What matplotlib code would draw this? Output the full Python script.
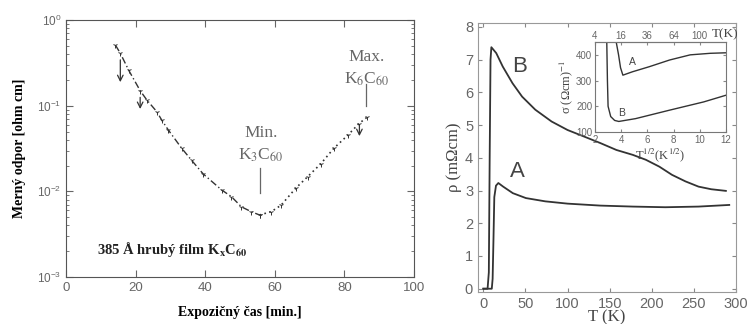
import numpy as np
import matplotlib
matplotlib.use("Agg")
import matplotlib.pyplot as plt
from matplotlib.ticker import LogLocator, NullFormatter, FixedLocator

# --- lava cast: merny odpor vs. expozicny cas ---
exp_time = [14.2, 15.6, 18.0, 21.3, 23.2, 26.1, 27.5, 29.4, 33.2, 36.1, 39.4,
            44.7, 47.5, 50.4, 53.2, 55.6]
odpor_down = [0.51, 0.41, 0.26, 0.15, 0.117, 0.085, 0.068, 0.052, 0.032,
              0.023, 0.016, 0.0104, 0.0087, 0.0066, 0.0058, 0.0053]
exp_time_up = [55.6, 59.0, 61.8, 66.1, 69.4, 73.2, 77.0, 80.9, 84.2, 86.6]
odpor_up = [0.0053, 0.0058, 0.0069, 0.011, 0.0148, 0.021, 0.032, 0.045,
            0.062, 0.074]
# sipky (x, od, do)
arrow_x = [15.6, 21.3, 84.3]
arrow_top = [0.37, 0.135, 0.065]
arrow_bot = [0.175, 0.085, 0.041]

# --- prava cast: rho(T) ---
T_B = [0, 5, 6.5, 7.5, 8.5, 9.5, 15.3, 23, 34.6, 46, 61.7, 81, 100, 119.6,
       139, 158, 177.5, 193, 209, 224, 240, 255.5, 270.6, 288]
rho_B = [0, 0, 0.5, 4.0, 7.0, 7.38, 7.2, 6.79, 6.28, 5.87, 5.47, 5.11, 4.85,
         4.65, 4.45, 4.24, 4.09, 3.94, 3.73, 3.48, 3.28, 3.12, 3.04, 2.99]
T_A = [0, 10, 11, 12, 13, 15, 17.8, 23.5, 35, 50.5, 73.5, 100, 139, 177.5,
       216, 255.5, 292]
rho_A = [0, 0, 0.3, 1.5, 2.8, 3.15, 3.23, 3.12, 2.92, 2.77, 2.67, 2.6, 2.54,
         2.51, 2.49, 2.51, 2.56]

# --- inset: sigma vs T^1/2 ---
sq_A = [3.62, 3.8, 3.95, 4.13, 4.85, 6.15, 7.7, 9.27, 10.8, 12.0]
sig_A = [450, 400, 350, 321, 334, 354, 380, 400, 406, 408]
sq_B = [2.9, 2.95, 3.0, 3.2, 3.5, 3.82, 5.1, 7.7, 10.3, 12.0]
sig_B = [450, 300, 200, 160, 145, 141, 152, 185, 217, 243]
top_ticks = [2, 4, 6, 8, 10]
top_labels = ['4', '16', '36', '64', '100']

gray = '#666666'
dark = '#333333'
serif = ['Liberation Serif', 'DejaVu Serif']
sans = ['Liberation Sans', 'DejaVu Sans']

fig = plt.figure(figsize=(7.52, 3.24), dpi=100)

# ================= leva =================
ax1 = fig.add_axes([0.0878, 0.145, 0.4628, 0.793])
ax1.plot(exp_time, odpor_down, color=dark, lw=1.0, ls=(0, (5, 2, 1, 2)),
         marker='1', ms=4, mew=0.7)
ax1.plot(exp_time_up, odpor_up, color=dark, lw=1.2, ls=(0, (1, 2)),
         marker='1', ms=4, mew=0.7)
for x, y0, y1 in zip(arrow_x, arrow_top, arrow_bot):
    ax1.annotate('', xy=(x, y1), xytext=(x, y0),
                 arrowprops=dict(arrowstyle='->', lw=0.9, color=dark,
                                 mutation_scale=10))
ax1.set_yscale('log')
ax1.set_xlim(0, 100)
ax1.set_ylim(1e-3, 1)
ax1.set_xticks([0, 20, 40, 60, 80, 100])
ax1.yaxis.set_major_locator(LogLocator(base=10, numticks=10))
ax1.yaxis.set_minor_locator(LogLocator(base=10, subs=np.arange(2, 10), numticks=10))
ax1.yaxis.set_minor_formatter(NullFormatter())
ax1.tick_params(which='both', direction='in', top=True, right=True,
                colors=gray, labelsize=9.5)
ax1.tick_params(axis='y', labelsize=8.5)
ax1.tick_params(which='major', length=5)
ax1.tick_params(which='minor', length=2.5)
for lab in ax1.get_xticklabels() + ax1.get_yticklabels():
    lab.set_family(sans)
for s in ax1.spines.values():
    s.set_color('#555555')
ax1.set_xlabel('Expozičný čas [min.]', family=serif, weight='bold',
               fontsize=10, labelpad=9)
ax1.set_ylabel('Merný odpor [ohm cm]', family=serif, weight='bold',
               fontsize=10, labelpad=8)

ax1.text(56, 0.035, 'Min.\nK$_3$C$_{60}$', family=serif, color=gray,
         fontsize=12.5, ha='center', va='center', linespacing=1.4,
         math_fontfamily='stix')
ax1.plot([55.8, 55.8], [0.0186, 0.0095], color=gray, lw=0.9)
ax1.text(86.5, 0.27, 'Max.\nK$_6$C$_{60}$', family=serif, color=gray,
         fontsize=12.5, ha='center', va='center', linespacing=1.4,
         math_fontfamily='stix')
ax1.plot([86.3, 86.3], [0.18, 0.098], color=gray, lw=0.9)
ax1.text(9, 0.0021, '385 Å hrubý film K$_\\mathbf{x}$C$_\\mathbf{60}$',
         family=serif, weight='bold', fontsize=10.5, color='#222222',
         va='center', math_fontfamily='stix')

# ================= prava =================
ax2 = fig.add_axes([0.6356, 0.0988, 0.3431, 0.8302])
ax2.plot(T_B, rho_B, color=dark, lw=1.3)
ax2.plot(T_A, rho_A, color=dark, lw=1.3)
ax2.set_xlim(-6.4, 293)
ax2.set_ylim(-0.1, 8.12)
ax2.set_xticks([0, 50, 100, 150, 200, 250, 300])
ax2.set_yticks(range(0, 9))
ax2.tick_params(direction='in', top=True, right=True, length=3,
                colors='#888888', labelcolor=gray, labelsize=10.5)
for lab in ax2.get_xticklabels() + ax2.get_yticklabels():
    lab.set_family(sans)
for s in ax2.spines.values():
    s.set_color('#999999')
ax2.set_xlabel('T (K)', family=serif, fontsize=12, color='#444444', labelpad=-1)
ax2.set_ylabel('ρ (mΩcm)', family=serif, fontsize=12, color='#444444',
               labelpad=2)
ax2.text(42.5, 6.79, 'B', family=sans, fontsize=16, color='#444444',
         ha='center', va='center')
ax2.text(41, 3.58, 'A', family=sans, fontsize=16, color='#444444',
         ha='center', va='center')

# inset
ax3 = fig.add_axes([0.7912, 0.5926, 0.1742, 0.2778])
ax3.plot(sq_A, sig_A, color=dark, lw=1.0)
ax3.plot(sq_B, sig_B, color=dark, lw=1.0)
ax3.set_xlim(2, 12)
ax3.set_ylim(100, 450)
ax3.set_xticks([2, 4, 6, 8, 10, 12])
ax3.set_yticks([100, 200, 300, 400])
ax3.tick_params(direction='in', right=True, length=2, colors='#888888',
                labelcolor=gray, labelsize=7, pad=2)
for lab in ax3.get_xticklabels() + ax3.get_yticklabels():
    lab.set_family(sans)
sec = ax3.secondary_xaxis('top')
sec.xaxis.set_major_locator(FixedLocator(top_ticks))
sec.set_xticklabels(top_labels)
sec.tick_params(direction='in', length=2, colors='#888888', labelcolor=gray,
                labelsize=7, pad=1)
for lab in sec.get_xticklabels():
    lab.set_family(sans)
for s in list(ax3.spines.values()) + [sec.spines['top']]:
    s.set_color('#777777')
ax3.text(0.99, 1.085, 'T(K)', transform=ax3.transAxes, family=serif,
         fontsize=9.5, color='#444444', ha='center', va='center')
ax3.set_xlabel('T$^{1/2}$(K$^{1/2}$)', family=serif, fontsize=9,
               color='#444444', labelpad=1, math_fontfamily='stix')
ax3.set_ylabel('σ (Ωcm)$^{-1}$', family=serif, fontsize=9, color='#444444',
               labelpad=1, math_fontfamily='stix')
ax3.text(4.85, 373, 'A', family=sans, fontsize=7.5, color='#444444',
         ha='center', va='center')
ax3.text(4.0, 172, 'B', family=sans, fontsize=7.5, color='#444444',
         ha='center', va='center')

fig.savefig('out.png', dpi=100)
